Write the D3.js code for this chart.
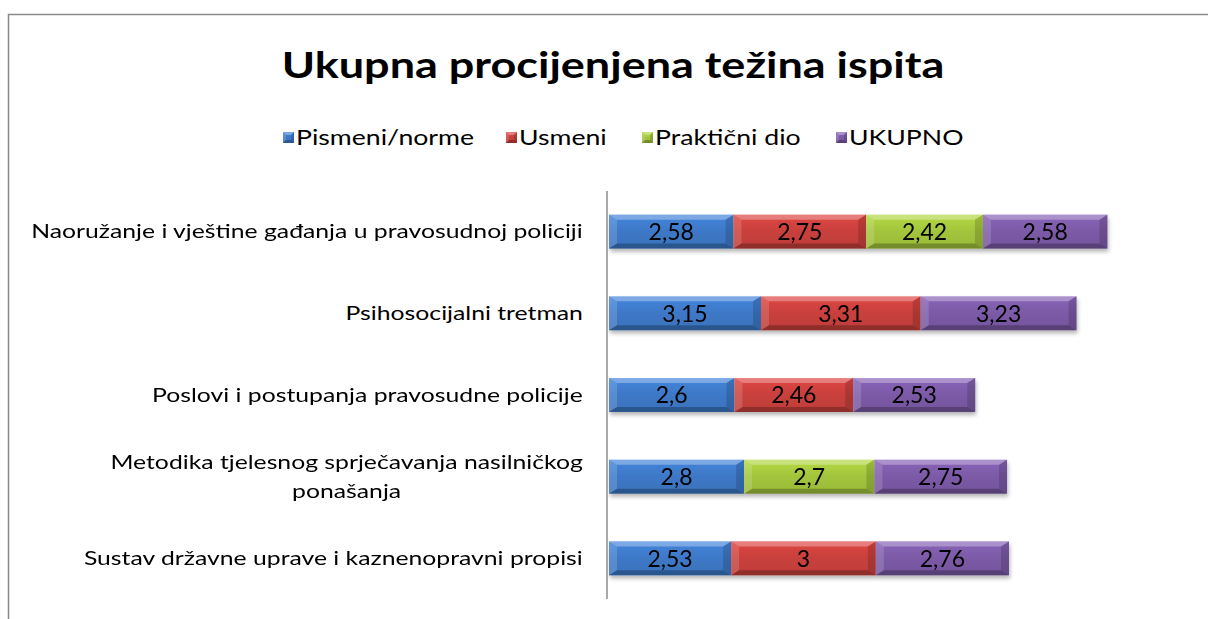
<!DOCTYPE html>
<html>
<head>
<meta charset="utf-8">
<script src="https://cdn.jsdelivr.net/npm/d3@7"></script>
<style>
  body { margin: 0; background: #fff; }
  svg { display: block; font-family: Lato, "Open Sans", sans-serif; }
</style>
</head>
<body>
<svg id="chart" width="1208" height="619"></svg>
<script>
// categories, top to bottom
var categories = [
  "Naoružanje i vještine gađanja u pravosudnoj policiji",
  "Psihosocijalni tretman",
  "Poslovi i postupanja pravosudne policije",
  "Metodika tjelesnog sprječavanja nasilničkog ponašanja",
  "Sustav državne uprave i kaznenopravni propisi"
];
var seriesNames = ["Pismeni/norme", "Usmeni", "Praktični dio", "UKUPNO"];
// null = no value for that exam part
var pismeni  = [2.58, 3.15, 2.6, 2.8, 2.53];
var usmeni   = [2.75, 3.31, 2.46, null, 3];
var prakticni = [2.42, null, null, 2.7, null];
var ukupno   = [2.58, 3.23, 2.53, 2.75, 2.76];
var seriesValues = [pismeni, usmeni, prakticni, ukupno];
var colors = ["#3d78c6", "#c8403c", "#a2c43c", "#7b5aa6"];

// the original text is wide (stretched Calibri), so widen Lato a bit
var stretch = 1.27;

var svg = d3.select("#chart");

// chart frame (runs off the right / bottom of the picture)
svg.append("rect")
  .attr("x", 8.5).attr("y", 14.5)
  .attr("width", 1300).attr("height", 700)
  .attr("fill", "#fff").attr("stroke", "#898989").attr("stroke-width", 1.5);

var defs = svg.append("defs");
colors.forEach(function(c, i) {
  var g = defs.append("linearGradient").attr("id", "grad" + i)
    .attr("x1", 0).attr("y1", 0).attr("x2", 0).attr("y2", 1);
  g.append("stop").attr("offset", "0%").attr("stop-color", d3.color(c).brighter(0.3));
  g.append("stop").attr("offset", "50%").attr("stop-color", c);
  g.append("stop").attr("offset", "100%").attr("stop-color", d3.color(c).darker(0.15));
});
var shadow = defs.append("filter").attr("id", "shadow")
  .attr("x", "-5%").attr("y", "-20%").attr("width", "110%").attr("height", "160%");
shadow.append("feGaussianBlur").attr("in", "SourceAlpha").attr("stdDeviation", 2);
shadow.append("feOffset").attr("dx", 1).attr("dy", 3).attr("result", "blur");
shadow.append("feComponentTransfer").append("feFuncA").attr("type", "linear").attr("slope", 0.3);
var merge = shadow.append("feMerge");
merge.append("feMergeNode");
merge.append("feMergeNode").attr("in", "SourceGraphic");

// title
svg.append("g").attr("transform", "translate(613,78) scale(1.25,1)")
  .append("text")
  .attr("text-anchor", "middle")
  .attr("font-size", 36).attr("font-weight", "bold")
  .text("Ukupna procijenjena težina ispita");

var x = d3.scaleLinear().domain([0, 12]).range([609, 1188]);
var y = d3.scaleBand().domain(categories).range([191, 599]).paddingInner(0.585).paddingOuter(0.29);

// stack the segments
var segs = [];
categories.forEach(function(cat, ci) {
  var acc = 0;
  seriesValues.forEach(function(vals, si) {
    var v = vals[ci];
    if (v == null) return;
    segs.push({cat: cat, s: si, v: v, x0: acc, x1: acc + v});
    acc += v;
  });
});

function bevelBox(g, x0, y0, w, h, b, bv) {
  g.append("polygon")
    .attr("points", [[x0, y0], [x0 + w, y0], [x0 + w - b, y0 + bv], [x0 + b, y0 + bv]].join(" "))
    .attr("fill", "#fff").attr("opacity", 0.3);
  g.append("polygon")
    .attr("points", [[x0, y0], [x0 + b, y0 + bv], [x0 + b, y0 + h - bv], [x0, y0 + h]].join(" "))
    .attr("fill", "#fff").attr("opacity", 0.15);
  g.append("polygon")
    .attr("points", [[x0 + w, y0], [x0 + w, y0 + h], [x0 + w - b, y0 + h - bv], [x0 + w - b, y0 + bv]].join(" "))
    .attr("fill", "#000").attr("opacity", 0.15);
  g.append("polygon")
    .attr("points", [[x0, y0 + h], [x0 + b, y0 + h - bv], [x0 + w - b, y0 + h - bv], [x0 + w, y0 + h]].join(" "))
    .attr("fill", "#000").attr("opacity", 0.25);
}

var bars = svg.append("g").attr("filter", "url(#shadow)");
segs.forEach(function(d) {
  var g = bars.append("g");
  var x0 = x(d.x0), w = x(d.x1) - x(d.x0), y0 = y(d.cat), h = y.bandwidth();
  g.append("rect")
    .attr("x", x0).attr("y", y0).attr("width", w).attr("height", h)
    .attr("fill", "url(#grad" + d.s + ")");
  bevelBox(g, x0, y0, w, h, 8, 5);
});

// value labels
svg.append("g").selectAll("text").data(segs).enter().append("text")
  .attr("x", function(d) { return (x(d.x0) + x(d.x1)) / 2; })
  .attr("y", function(d) { return y(d.cat) + y.bandwidth() / 2; })
  .attr("dy", "0.36em")
  .attr("text-anchor", "middle")
  .attr("font-size", 23)
  .text(function(d) { return String(d.v).replace(".", ","); });

// vertical category axis line
svg.append("line")
  .attr("x1", 607).attr("x2", 607)
  .attr("y1", y.range()[0]).attr("y2", y.range()[1])
  .attr("stroke", "#8c8c8c").attr("stroke-width", 1.5);

// category labels, wrapped like Excel
var maxLine = 52;
function wrap(s) {
  if (s.length <= maxLine) return [s];
  var words = s.split(" "), lines = [], cur = "";
  words.forEach(function(w) {
    if ((cur + " " + w).trim().length > maxLine) { lines.push(cur); cur = w; }
    else cur = (cur + " " + w).trim();
  });
  lines.push(cur);
  return lines;
}
var labelG = svg.append("g").attr("font-size", 19.5).attr("fill", "#000");
categories.forEach(function(cat) {
  var lines = wrap(cat);
  var cy = y(cat) + y.bandwidth() / 2;
  var holder = labelG.append("g");
  var t = holder.append("text").attr("text-anchor", "middle");
  lines.forEach(function(l, i) {
    t.append("tspan").attr("x", 0)
      .attr("y", cy + (i - (lines.length - 1) / 2) * 29)
      .attr("dy", "0.35em").text(l);
  });
  // right-align the block at the axis
  var bw = t.node().getBBox().width * stretch;
  holder.attr("transform", "translate(" + (583 - bw / 2) + ",0) scale(" + stretch + ",1)");
});

// legend
var legendX = [283, 506, 642, 836];
var legend = svg.append("g");
seriesNames.forEach(function(name, i) {
  var g = legend.append("g").attr("transform", "translate(" + legendX[i] + ",132)");
  g.append("rect").attr("width", 11).attr("height", 11).attr("fill", "url(#grad" + i + ")");
  bevelBox(g, 0, 0, 11, 11, 3, 3);
  g.append("text").attr("transform", "translate(13,5.5) scale(1.3,1)").attr("dy", "0.35em")
    .attr("font-size", 20.5).text(name);
});
</script>
</body>
</html>
